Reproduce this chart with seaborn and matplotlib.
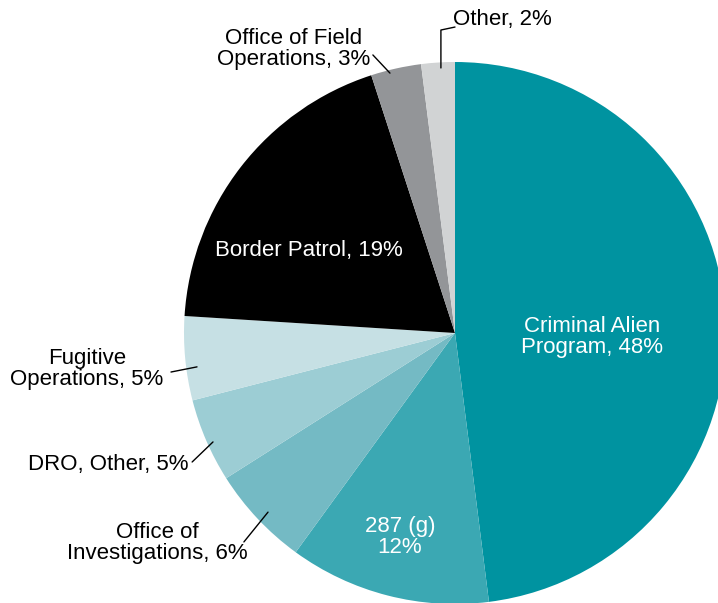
import numpy as np
import matplotlib
matplotlib.use("Agg")
import matplotlib.pyplot as plt
import seaborn as sns

sns.set_theme(style="white")
plt.rcParams['font.family'] = ['Liberation Sans', 'DejaVu Sans']
plt.rcParams['text.color'] = 'black'

# data
categories = ["Criminal Alien\nProgram", "287 (g)", "Office of\nInvestigations", "DRO, Other",
              "Fugitive\nOperations", "Border Patrol", "Office of Field\nOperations", "Other"]
shares = [48, 12, 6, 5, 5, 19, 3, 2]
colors = ["#0093A0", "#3BA8B3", "#74BAC4", "#9CCDD4", "#C6E0E4", "#000000", "#939598", "#D1D3D4"]

fig = plt.figure(figsize=(7.18, 6.03), dpi=100)
# pie centre ~ (455,333) px, radius ~271 px; parts fall outside the figure
r_px = 271
ax = fig.add_axes([(455 - r_px) / 718, (603 - 333 - r_px) / 603, 2 * r_px / 718, 2 * r_px / 603])
ax.pie(shares, colors=colors, startangle=90, counterclock=False, radius=1,
       wedgeprops=dict(linewidth=0))
ax.set_xlim(-1, 1)
ax.set_ylim(-1, 1)
ax.set_aspect('auto')
ax.axis('off')

fs = 16
# labels inside wedges (white)
ax.text(0.506, -0.015, "Criminal Alien\nProgram, 48%", color="white", fontsize=fs,
        ha="center", va="center", linespacing=1.05)
ax.text(-0.203, -0.753, "287 (g)\n12%", color="white", fontsize=fs,
        ha="center", va="center", linespacing=1.05)
ax.text(-0.539, 0.306, "Border Patrol, 19%", color="white", fontsize=fs,
        ha="center", va="center")

# outside labels
ax.text(-1.100, -0.775, "Office of\nInvestigations, 6%", fontsize=fs, ha="center", va="center",
        linespacing=1.05, color="black", clip_on=False)
ax.text(-0.985, -0.487, "DRO, Other, 5%", fontsize=fs, ha="right", va="center",
        color="black", clip_on=False)
ax.text(-1.358, -0.133, "Fugitive\nOperations, 5%", fontsize=fs, ha="center", va="center",
        linespacing=1.05, color="black", clip_on=False)
ax.text(-0.594, 1.048, "Office of Field\nOperations, 3%", fontsize=fs, ha="center", va="center",
        linespacing=1.05, color="black", clip_on=False)
ax.text(-0.007, 1.155, "Other, 2%", fontsize=fs, ha="left", va="center",
        color="black", clip_on=False)

# leader lines
lw = 1.0
ax.plot([-0.779, -0.690], [-0.771, -0.661], color="black", lw=lw, clip_on=False)
ax.plot([-0.970, -0.893], [-0.476, -0.402], color="black", lw=lw, clip_on=False)
ax.plot([-1.048, -0.952], [-0.144, -0.125], color="black", lw=lw, clip_on=False)
ax.plot([-0.303, -0.240], [1.026, 0.959], color="black", lw=lw, clip_on=False)
ax.plot([-0.052, -0.052, 0.0], [0.978, 1.118, 1.129], color="black", lw=lw, clip_on=False)

fig.savefig("out.png", dpi=100, facecolor="white")
